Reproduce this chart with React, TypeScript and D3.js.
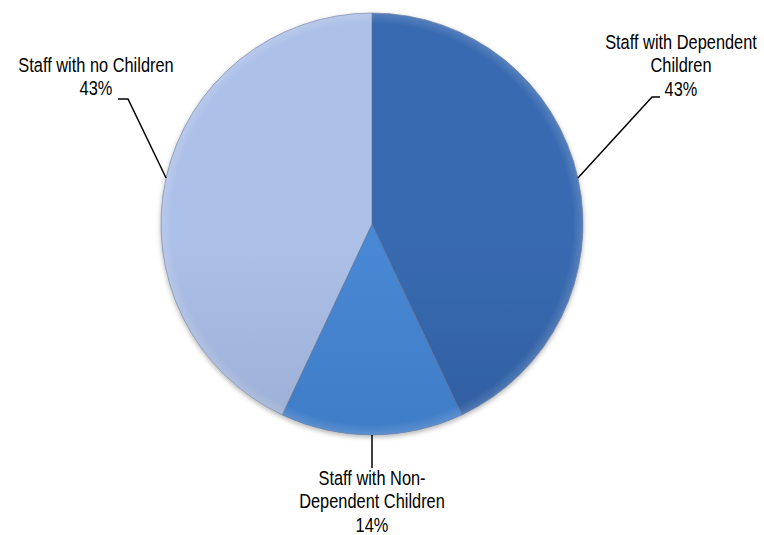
import * as React from "react";
import * as d3 from "d3";

const categories = ["Staff with Dependent Children", "Staff with Non-Dependent Children", "Staff with no Children"];
const shares = [43, 14, 43];
const labelLines = [
  ["Staff with Dependent", "Children", "43%"],
  ["Staff with Non-", "Dependent Children", "14%"],
  ["Staff with no Children", "43%"],
];
const topColors = ["#386ab1", "#4888d4", "#adc0e8"];
const bottomColors = ["#29538f", "#3870b8", "#8a9bbf"];

const W = 764;
const H = 535;
const cx = 372;
const cy = 224;
const R = 211;

export default function App() {
  const pie = d3.pie<number>().sort(null).value((d) => d);
  const arcs = pie(shares);
  const arc = d3.arc<d3.PieArcDatum<number>>().innerRadius(0).outerRadius(R);
  const edge = (a: d3.PieArcDatum<number>) => {
    const m = (a.startAngle + a.endAngle) / 2;
    return [cx + Math.sin(m) * R, cy - Math.cos(m) * R];
  };

  const font = "'Liberation Sans', Arial, sans-serif";
  const lh = 23.5;

  // leader + label layout for each slice
  const layouts = arcs.map((a, i) => {
    const [ex, ey] = edge(a);
    if (i === 0) {
      const kx = 652, ky = 97;
      return { path: `M${ex},${ey}L${kx},${ky}L${kx + 8},${ky}`, tx: 681, ty: 49 };
    }
    if (i === 1) {
      return { path: `M${ex},${ey}L${ex},${ey + 33}`, tx: ex, ty: 485 };
    }
    const kx = 128, ky = 99;
    return { path: `M${ex},${ey}L${kx},${ky}L${kx - 10},${ky}`, tx: 96, ty: 72 };
  });

  return (
    <svg width={W} height={H} style={{ position: "absolute", left: 0, top: 0, background: "#fff" }}>
      <defs>
        {arcs.map((a, i) => (
          <linearGradient key={i} id={`g${i}`} gradientUnits="userSpaceOnUse" x1={0} y1={cy - R} x2={0} y2={cy + R}>
            <stop offset="0" stopColor={topColors[i]} />
            <stop offset="1" stopColor={bottomColors[i]} />
          </linearGradient>
        ))}
        <filter id="sh" x="-10%" y="-10%" width="120%" height="120%">
          <feDropShadow dx="0" dy="2" stdDeviation="2.5" floodColor="#000" floodOpacity="0.3" />
        </filter>
        <radialGradient id="rim" gradientUnits="userSpaceOnUse" cx={cx} cy={cy} r={R}>
          <stop offset="0.95" stopColor="#fff" stopOpacity="0" />
          <stop offset="1" stopColor="#fff" stopOpacity="0.15" />
        </radialGradient>
      </defs>
      <g transform={`translate(${cx},${cy})`} filter="url(#sh)">
        {arcs.map((a, i) => (
          <path key={categories[i]} d={arc(a) || ""} fill={`url(#g${i})`} stroke="#5d6f90" strokeOpacity={0.6} strokeWidth={1} />
        ))}
      </g>
      <circle cx={cx} cy={cy} r={R} fill="url(#rim)" />
      {layouts.map((l, i) => (
        <g key={i}>
          <path d={l.path} fill="none" stroke="#000" strokeWidth={1.5} />
          <g transform={`translate(${l.tx},${l.ty}) scale(0.84,1)`}>
            <text x={0} y={0} textAnchor="middle" fontFamily={font} fontSize={19.5} fill="#000">
              {labelLines[i].map((t, j) => (
                <tspan key={j} x={0} dy={j === 0 ? 0 : lh}>{t}</tspan>
              ))}
            </text>
          </g>
        </g>
      ))}
    </svg>
  );
}
